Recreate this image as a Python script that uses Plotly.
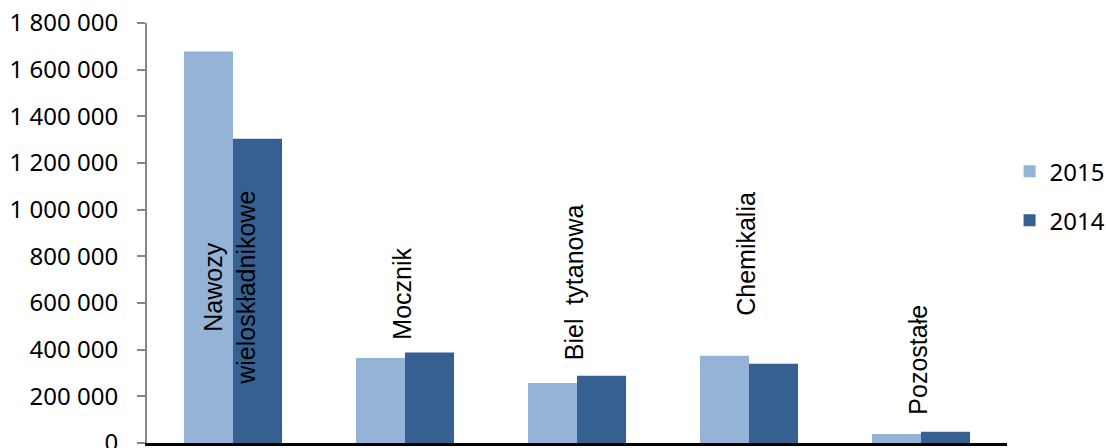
import plotly.graph_objects as go

categories = ["Nawozy wieloskładnikowe", "Mocznik", "Biel tytanowa", "Chemikalia", "Pozostałe"]
category_labels = ["Nawozy<br>wieloskładnikowe", "Mocznik", "Biel  tytanowa", "Chemikalia", "Pozostałe"]
values_2015 = [1678000, 364000, 257000, 374000, 38600]
values_2014 = [1304000, 388000, 288000, 340000, 48600]
tick_values = [0, 200000, 400000, 600000, 800000, 1000000, 1200000, 1400000, 1600000, 1800000]
tick_labels = ["0", "200 000", "400 000", "600 000", "800 000", "1 000 000",
               "1 200 000", "1 400 000", "1 600 000", "1 800 000"]

# vertical placement (in axis units) of the rotated category labels
label_pos = [665000, 640000, 689000, 811000, 357000]

fig = go.Figure()
fig.add_trace(go.Bar(x=categories, y=values_2015, name="2015",
                     marker=dict(color="#95B3D7", line=dict(width=0)),
                     legendgroup="a"))
fig.add_trace(go.Bar(x=categories, y=values_2014, name="2014",
                     marker=dict(color="#376092", line=dict(width=0)),
                     legendgroup="b"))

for c, lab, yp in zip(categories, category_labels, label_pos):
    fig.add_annotation(x=c, y=yp, xref="x", yref="y", text=lab, showarrow=False,
                       textangle=-90, xshift=-3,
                       font=dict(family="Liberation Sans, Arial", size=25, color="#000000"),
                       xanchor="center", yanchor="middle", align="center")

fig.update_layout(
    width=1106, height=448,
    margin=dict(l=147, r=99, t=23, b=5, autoexpand=False),
    paper_bgcolor="white", plot_bgcolor="white",
    barmode="group", bargap=0.43, bargroupgap=0,
    showlegend=True,
    legend=dict(x=1.003, y=0.588, xanchor="left", yanchor="middle",
                font=dict(family="Noto Sans", size=24, color="#000000"),
                tracegroupgap=15, bgcolor="rgba(0,0,0,0)"),
    xaxis=dict(showticklabels=False, ticks="", showline=True, linecolor="#000000",
               linewidth=2.5, showgrid=False, zeroline=False, fixedrange=True),
    yaxis=dict(range=[0, 1800000], tickvals=tick_values, ticktext=tick_labels,
               showline=True, linecolor="#868686", linewidth=2, ticks="outside",
               ticklen=8, tickwidth=2, tickcolor="#868686", showgrid=False,
               zeroline=False, ticklabelstandoff=14, ticklabeloverflow="allow",
               tickfont=dict(family="Noto Sans", size=24, color="#000000")),
)

fig.write_html("out.html")
